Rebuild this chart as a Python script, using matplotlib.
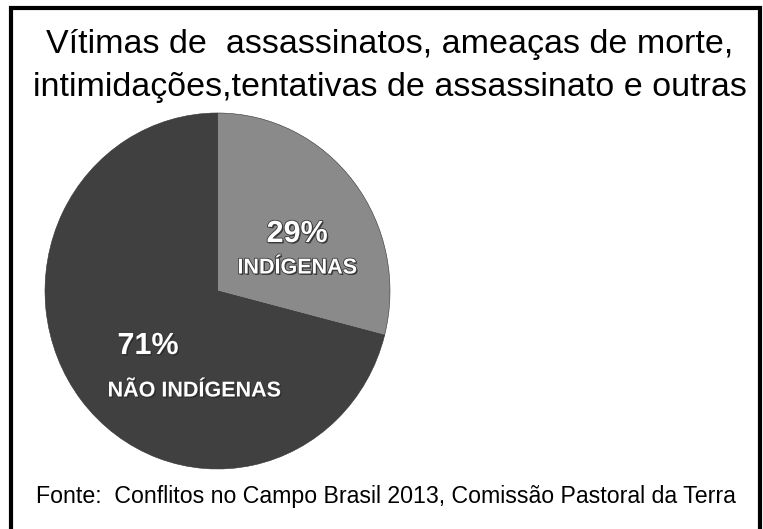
import matplotlib.pyplot as plt
import matplotlib.patheffects as pe
from matplotlib.lines import Line2D

# dados
categorias = ["INDÍGENAS", "NÃO INDÍGENAS"]
valores = [29, 71]
rotulos_pct = ["29%", "71%"]
cores = ["#8a8a8a", "#404040"]

titulo = "Vítimas de  assassinatos, ameaças de morte,\nintimidações,tentativas de assassinato e outras"
fonte = "Fonte:  Conflitos no Campo Brasil 2013, Comissão Pastoral da Terra"

W, H = 763, 529
fig = plt.figure(figsize=(W / 100, H / 100), dpi=100)

def fx(px):
    return px / W

def fy(py):
    return 1 - py / H

# pizza (ligeiramente achatada como no original)
ax = fig.add_axes([fx(45), fy(469), fx(390) - fx(45), fy(113) - fy(469)])
ax.pie(valores, colors=cores, startangle=90, counterclock=False,
       wedgeprops={"edgecolor": "#333333", "linewidth": 0.4})
ax.set_xlim(-1, 1)
ax.set_ylim(-1, 1)
ax.set_aspect("auto")
ax.axis("off")

sombra = [pe.SimplePatchShadow(offset=(1, -1), shadow_rgbFace="#222222", alpha=0.8),
          pe.withStroke(linewidth=1.2, foreground="#3a3a3a")]
fam = ["Liberation Sans", "DejaVu Sans"]

fig.text(fx(297), fy(234), rotulos_pct[0], ha="center", va="center", color="white",
         fontsize=22, fontweight="bold", family=fam, path_effects=sombra)
fig.text(fx(297), fy(268), categorias[0], ha="center", va="center", color="white",
         fontsize=15.5, fontweight="bold", family=fam, path_effects=sombra)
fig.text(fx(148), fy(346), rotulos_pct[1], ha="center", va="center", color="white",
         fontsize=22, fontweight="bold", family=fam, path_effects=sombra)
fig.text(fx(194), fy(391), categorias[1], ha="center", va="center", color="white",
         fontsize=15.5, fontweight="bold", family=fam, path_effects=sombra)

# título e fonte
fig.text(fx(390), fy(66), titulo, ha="center", va="center", color="black",
         fontsize=24.5, family=fam, linespacing=1.5)
fig.text(fx(386), fy(497), fonte, ha="center", va="center", color="black",
         fontsize=16.7, family=fam)

# moldura (aberta embaixo)
fig.add_artist(Line2D([fx(11), fx(11), fx(760), fx(760)], [0, fy(7.5), fy(7.5), 0],
                      transform=fig.transFigure, color="black", linewidth=3,
                      solid_joinstyle="miter"))

fig.savefig("out.png", dpi=100)
